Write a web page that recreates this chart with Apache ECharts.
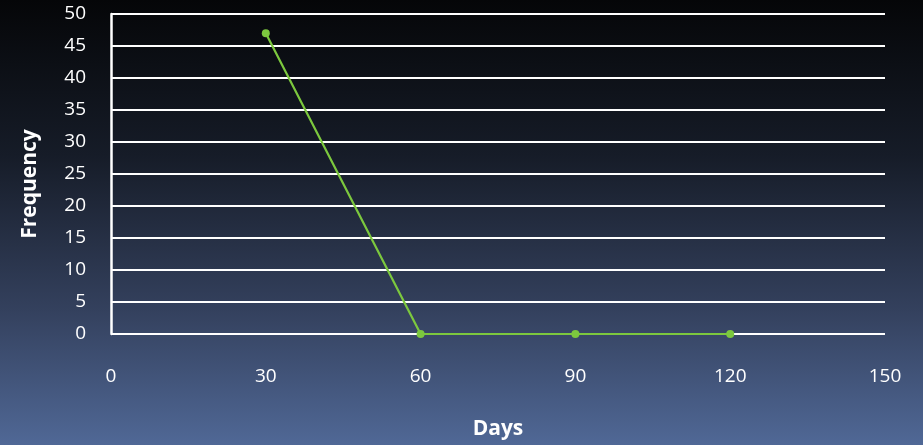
<!DOCTYPE html>
<html>
<head>
<meta charset="utf-8">
<script src="https://cdn.jsdelivr.net/npm/echarts@6/dist/echarts.min.js"></script>
<style>
  html, body { margin: 0; padding: 0; }
  #chart { width: 923px; height: 445px; }
</style>
</head>
<body>
<div id="chart"></div>
<script>
// Frequency of events by elapsed days
const days = [30, 60, 90, 120];
const frequency = [47, 0, 0, 0];
const xTicks = { min: 0, max: 150, interval: 30 };
const yTicks = { min: 0, max: 50, interval: 5 };

const chart = echarts.init(document.getElementById('chart'));
const fontFamily = '"Open Sans", Lato, sans-serif';

chart.setOption({
  backgroundColor: {
    type: 'linear', x: 0, y: 0, x2: 0, y2: 1,
    colorStops: [
      { offset: 0, color: '#050608' },
      { offset: 0.35, color: '#161c28' },
      { offset: 0.7, color: '#34415e' },
      { offset: 1, color: '#506896' }
    ]
  },
  grid: { left: 111, right: 38, top: 14, bottom: 111 },
  xAxis: {
    type: 'value',
    min: xTicks.min, max: xTicks.max, interval: xTicks.interval,
    name: 'Days',
    nameLocation: 'middle',
    nameGap: 85,
    nameTextStyle: { color: '#ffffff', fontSize: 21, fontWeight: 'bold', fontFamily },
    axisLine: { show: false },
    axisTick: { show: false },
    splitLine: { show: false },
    axisLabel: { color: '#ffffff', fontSize: 19, margin: 33, fontFamily }
  },
  yAxis: {
    type: 'value',
    min: yTicks.min, max: yTicks.max, interval: yTicks.interval,
    name: 'Frequency',
    nameLocation: 'middle',
    nameGap: 70,
    nameTextStyle: {
      color: '#ffffff', fontSize: 21, fontWeight: 'bold', fontFamily,
      padding: [0, 20, 0, 0]
    },
    axisLine: { show: true, lineStyle: { color: '#ffffff', width: 2.5 } },
    axisTick: { show: false },
    splitLine: { show: true, lineStyle: { color: '#ffffff', width: 2 } },
    axisLabel: { color: '#ffffff', fontSize: 19, margin: 25, fontFamily }
  },
  series: [{
    type: 'line',
    data: days.map((d, i) => [d, frequency[i]]),
    symbol: 'circle',
    symbolSize: 8,
    lineStyle: { color: '#7cc83e', width: 2.2 },
    itemStyle: { color: '#7cc83e' },
    animation: false,
    z: 5
  }]
});
</script>
</body>
</html>
